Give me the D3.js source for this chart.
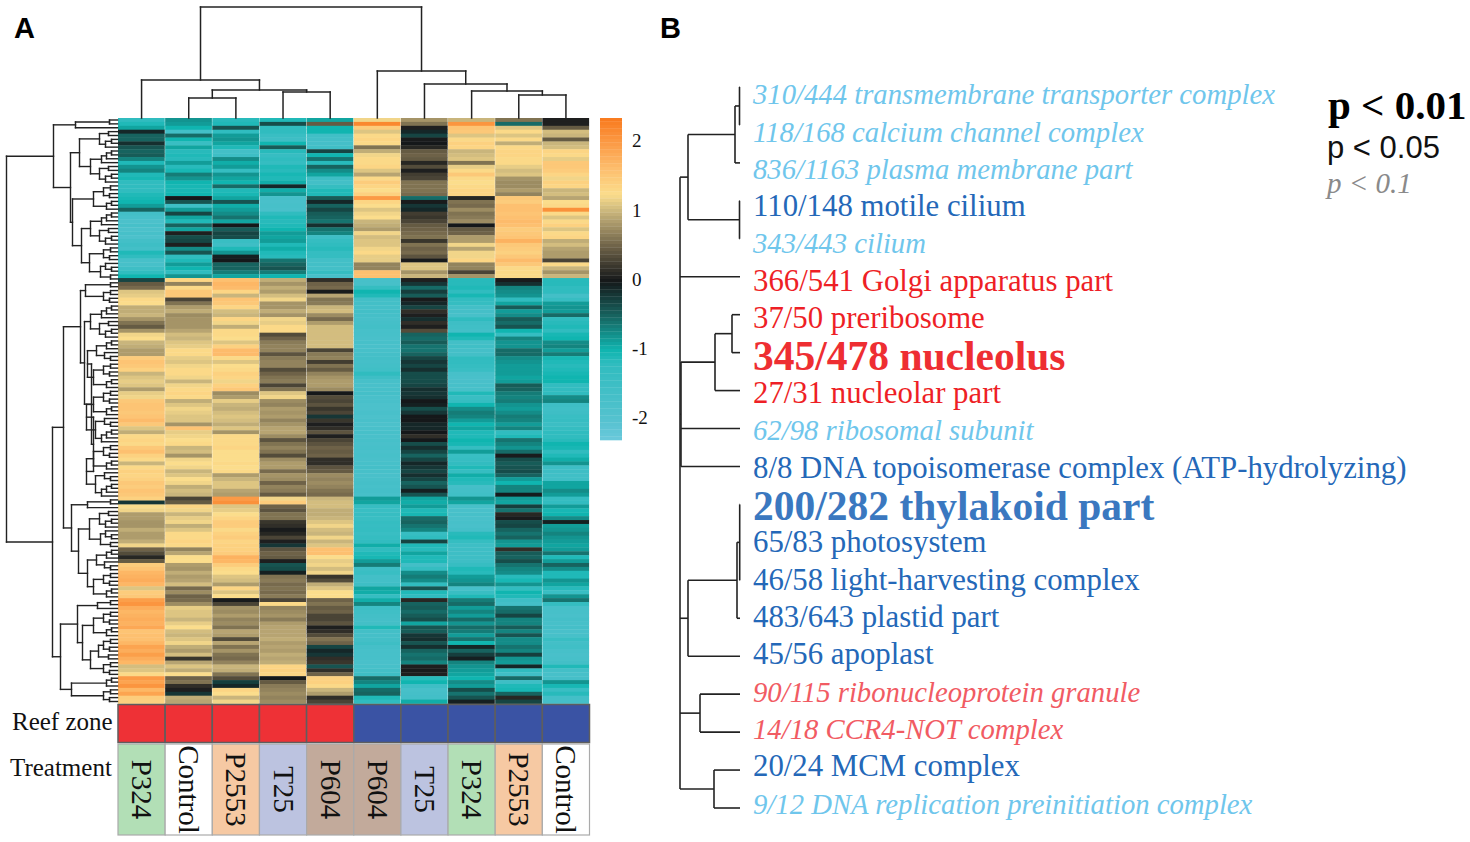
<!DOCTYPE html>
<html><head><meta charset="utf-8">
<script src="https://cdn.jsdelivr.net/npm/d3@7"></script>
<style>html,body{margin:0;padding:0;background:#fff}svg{display:block}text{font-family:"Liberation Serif",serif}</style>
</head><body><svg id="c" width="1470" height="842"></svg>
<script>
// ---- heat map values, one list per sample, top row first ----
const reefP324=[-1.2,-1.1,-0.9,-0.1,-0.5,-0.5,-0.15,-0.4,-0.5,-0.45,
-0.7,-1.1,-0.8,-0.7,-1.1,-1.05,-1.2,-1.2,-1.2,-1.1,
-1.05,-1.0,-0.85,-0.5,-1.6,-1.7,-1.8,-1.7,-1.8,-1.7,
-1.8,-1.6,-1.5,-1.6,-1.1,-1.2,-1.7,-1.7,-1.5,-1.2,
-1.0,-0.3,0.45,0.55,1.1,1.15,1.3,1.25,0.95,0.95,
1.0,0.8,0.6,0.45,0.8,1.2,1.25,1.0,0.95,0.85,
0.85,1.45,1.55,1.5,1.4,1.0,1.1,1.15,1.1,0.85,
1.15,1.2,1.5,1.55,1.55,1.5,1.55,1.65,1.5,1.1,
0.95,1.3,1.35,1.3,1.5,1.6,1.4,1.3,1.0,1.3,
1.4,1.35,1.4,1.5,1.45,1.55,1.5,1.4,-0.2,1.25,
1.2,0.85,0.85,0.8,0.8,0.95,0.85,0.85,0.95,1.2,
0.5,0.35,0.1,0.45,1.45,1.55,1.7,1.75,1.8,1.7,
1.1,1.45,1.5,1.95,2.05,1.8,1.7,1.75,1.8,1.75,
1.85,1.55,1.6,1.6,1.7,1.9,1.8,1.95,1.8,1.7,
1.05,1.1,1.3,2.0,1.9,2.05,1.7,1.9,1.45,1.4];
const reefControl=[-0.8,-0.85,-1.0,-1.6,-0.55,-1.0,-1.4,-0.9,-1.15,-1.1,
-1.15,-0.85,-1.15,-1.05,-0.65,-0.8,-1.0,-1.05,-1.05,-1.0,
0.0,-0.4,-1.5,-0.85,-0.3,-0.9,-1.1,-0.5,-0.9,0.05,
-0.35,-0.3,0.05,-0.75,-0.4,-1.2,-1.1,-0.85,-1.0,-1.2,
-0.8,1.35,0.7,1.3,1.5,1.5,0.3,0.6,0.85,0.95,
0.75,0.8,0.8,0.8,0.9,1.05,1.0,1.1,1.15,1.3,
1.3,1.15,1.1,1.2,1.3,1.3,1.2,1.0,1.2,1.3,
1.35,1.3,0.95,1.1,1.2,1.15,1.1,1.1,0.8,1.55,
1.15,1.2,1.25,1.3,1.0,1.05,0.8,1.2,1.25,1.2,
1.0,1.1,1.25,1.2,0.95,1.05,1.0,0.3,0.45,1.35,
1.2,1.0,1.15,1.2,0.95,1.1,1.3,1.3,1.35,1.3,
0.7,0.9,1.25,1.25,0.85,0.8,0.95,0.85,0.9,1.05,
0.55,0.75,0.5,0.55,0.75,1.15,1.1,1.1,1.0,1.15,
1.25,1.05,1.0,1.1,1.2,0.95,0.85,1.05,0.2,0.9,
1.1,0.95,1.25,0.5,0.6,0.15,0.05,-0.2,0.95,0.9];
const reefP2553=[-1.15,-1.1,-0.4,-1.2,-0.85,-0.8,-0.9,-1.1,-1.6,-1.5,
-0.75,-0.95,-0.85,-1.3,-0.8,-0.9,-1.0,-0.55,-1.1,-1.05,
-0.9,-0.4,-0.95,-0.85,-0.75,-0.6,-0.9,0.0,-0.45,-0.3,
-0.35,-1.4,-1.5,-1.1,-0.8,-0.05,0.0,-0.5,-0.5,-0.65,
-0.9,1.6,1.7,1.65,1.35,1.0,1.55,1.5,1.35,1.05,
1.0,1.35,1.2,0.95,1.3,1.3,1.25,1.1,1.4,1.65,
1.65,1.3,1.1,1.25,1.3,1.4,1.35,1.2,1.4,1.5,
0.75,0.85,1.15,1.0,0.95,1.05,1.1,1.05,0.95,1.1,
0.8,1.3,1.3,1.3,1.35,1.25,1.25,1.25,1.3,1.25,
1.3,0.85,1.0,1.1,1.1,0.9,0.85,2.0,2.1,1.1,
1.15,1.25,1.35,1.45,1.45,1.3,1.4,1.45,1.35,1.4,
1.4,1.45,1.75,1.7,1.45,1.3,1.25,1.1,1.05,0.85,
1.35,1.1,1.25,0.02,0.3,0.8,0.75,0.85,0.7,0.75,
0.6,0.9,0.85,0.35,0.9,0.6,0.8,0.6,0.55,0.7,
1.0,0.95,0.6,0.35,-0.25,-0.1,1.35,1.25,1.0,1.2];
const reefT25=[-1.1,-0.35,-1.2,-1.2,-1.4,-1.5,-1.0,-0.45,-1.15,-1.35,
-1.2,-1.3,-1.1,-1.15,-1.05,-1.1,-0.95,-0.1,-0.95,-0.8,
-1.7,-1.75,-1.7,-1.75,-1.2,-1.1,-1.15,-1.1,-1.0,-0.85,
-0.9,-0.85,-1.1,-0.95,-1.1,-1.15,-0.6,-0.5,-0.4,-0.65,
-1.0,0.95,0.8,0.95,0.85,1.05,1.2,0.8,0.8,0.95,
0.8,1.2,1.15,1.3,1.3,0.35,0.5,0.65,0.7,0.7,
0.4,0.65,0.7,0.7,0.35,0.5,0.6,0.65,0.3,0.6,
1.1,1.2,0.75,0.7,0.85,0.8,0.85,0.7,0.8,0.9,
0.9,0.75,0.4,0.6,0.7,0.6,0.35,0.75,0.85,0.85,
0.55,0.8,0.75,0.5,0.7,0.65,0.45,1.2,1.45,0.5,
0.4,0.6,0.6,0.2,0.15,0.02,0.1,0.3,0.05,-0.2,
0.4,0.5,0.45,0.05,-0.4,-0.35,-0.05,0.6,0.65,0.55,
0.6,0.55,0.65,0.3,1.3,0.7,0.75,0.8,0.65,0.85,
0.9,0.9,0.9,0.95,0.85,0.9,0.85,0.95,0.9,0.95,
1.35,1.4,1.35,0.0,0.45,0.65,0.7,0.75,0.7,0.75];
const reefP604=[-0.9,0.45,-1.0,-1.0,-1.55,-1.6,-1.65,-1.55,-0.3,-1.0,
-0.6,-1.15,-0.5,-0.75,-0.9,-1.5,-1.6,-1.3,-1.1,-1.1,
-0.45,-0.1,-0.5,-0.3,-0.45,-0.5,-0.6,-0.15,-0.6,-0.7,
-1.5,-1.3,-1.2,-1.15,-1.3,-1.3,-1.6,-1.6,-1.6,-1.3,
-1.7,0.15,0.5,0.55,0.02,0.9,0.6,0.65,1.0,1.05,
0.75,0.55,0.85,1.05,1.05,1.05,1.05,1.05,1.05,0.3,
0.65,0.7,0.25,0.6,0.45,0.7,0.8,0.85,0.85,0.75,
0.0,0.35,0.3,0.4,0.2,0.3,-0.2,0.2,0.05,0.15,
0.4,0.05,0.3,0.4,0.5,0.45,0.5,0.15,0.15,0.4,
0.45,0.75,0.7,0.75,0.7,0.6,0.55,1.0,1.05,1.05,
0.95,0.95,1.0,1.1,1.2,1.05,1.0,1.2,1.0,1.1,
1.6,1.6,1.25,1.15,1.2,1.05,1.2,0.2,0.35,0.95,
1.1,1.25,1.25,0.5,0.6,0.45,0.5,0.3,0.3,0.4,
0.05,0.15,0.35,0.6,0.5,-0.3,-0.1,-0.2,0.15,0.2,
-0.4,0.15,0.5,1.4,1.4,1.3,1.0,0.85,0.15,0.3];
const foreP604=[1.2,2.2,1.45,1.1,1.3,1.35,1.3,0.6,0.95,1.2,
1.3,1.3,1.35,1.1,0.9,1.3,1.45,1.35,1.25,1.4,
2.0,1.35,1.25,1.1,1.2,1.25,1.0,0.95,0.85,1.2,
1.05,1.1,1.1,1.2,1.3,1.15,1.15,0.7,0.7,1.6,
1.6,-1.7,-1.7,-1.3,-1.0,-1.1,-1.6,-1.6,-1.65,-1.6,
-1.65,-1.7,-1.65,-1.6,-1.7,-1.7,-1.75,-1.7,-1.75,-1.7,
-1.65,-1.6,-1.65,-1.6,-1.55,-1.2,-1.5,-1.7,-1.75,-1.7,
-1.65,-1.75,-1.75,-1.8,-1.8,-1.75,-1.8,-1.75,-1.8,-1.75,
-1.7,-1.75,-1.7,-1.75,-1.7,-1.75,-1.7,-1.75,-1.7,-1.65,
-1.7,-1.75,-1.7,-1.65,-1.7,-1.65,-1.7,-0.85,-0.9,-1.35,
-1.4,-1.35,-1.4,-1.3,-1.35,-1.3,-1.4,-1.3,-1.25,-0.95,
-1.2,-1.1,-1.05,-0.85,-0.65,-1.5,-1.4,-1.6,-1.6,-1.5,
-0.9,-0.95,-1.3,-0.95,-0.7,-1.5,-1.55,-1.6,-1.65,-1.6,
-1.1,-1.6,-1.65,-1.6,-1.5,-1.65,-1.7,-1.7,-1.7,-1.75,
-1.7,-1.6,-1.5,-0.55,-0.7,-0.9,-0.55,-0.5,-1.1,-1.2];
const foreT25=[0.8,0.6,0.05,-0.1,-0.3,0.02,0.0,0.1,0.45,0.5,
0.45,0.1,0.35,0.05,0.25,0.3,0.6,0.6,0.6,0.55,
-0.55,0.02,-0.2,-0.1,0.25,0.2,0.3,0.45,0.5,0.55,
0.6,0.2,0.6,0.5,0.55,0.4,0.02,1.1,1.1,0.8,
1.0,0.05,-0.2,-0.55,-0.25,-0.45,0.02,-0.1,-0.3,0.15,
0.05,-0.15,0.15,0.05,0.35,-0.5,-0.55,-0.45,-0.6,-0.6,
-0.5,-0.3,-0.2,-0.3,-0.15,-0.35,-0.35,-0.35,-0.3,-0.15,
-0.2,-0.15,0.0,-0.05,-0.35,-0.2,0.0,0.0,-0.1,-0.1,
0.0,0.15,0.0,-0.35,-0.15,-0.3,-0.5,-0.3,-0.1,-0.2,
-0.3,-0.15,-0.3,-0.5,-0.4,-0.05,-0.4,-0.9,-0.95,-0.85,
-1.1,-1.05,-0.55,-0.5,-0.6,-0.7,-1.35,-1.2,-0.3,-1.1,
-1.15,-0.9,-1.1,-1.1,-1.6,-1.3,-0.75,-0.65,-0.75,-1.2,
-0.4,-1.1,-1.2,0.1,-0.5,-0.45,-0.55,-0.45,-0.35,-0.9,
-0.4,-0.45,-0.2,-0.15,-0.4,-0.15,-0.5,-0.6,-0.55,-0.7,
0.05,0.02,0.05,-1.15,-1.0,-1.5,-1.7,-1.65,-1.6,-0.95];
const foreP324=[1.0,2.05,1.55,1.5,1.1,1.3,1.4,1.35,1.0,1.05,
1.1,0.6,1.15,1.3,1.5,1.3,1.25,1.3,1.35,1.35,
0.1,0.6,0.55,0.75,0.6,0.65,0.75,0.0,0.45,0.5,
0.85,0.85,1.2,0.9,1.2,1.2,1.35,0.7,0.7,0.3,
0.8,-1.15,-1.15,-1.1,-1.2,-1.05,-1.25,-1.3,-1.6,-1.65,
-1.7,-1.2,-1.5,-1.55,-1.6,-1.0,-1.1,-1.6,-1.55,-1.65,
-1.6,-1.2,-1.25,-1.3,-1.4,-1.7,-1.75,-1.75,-1.7,-1.7,
-1.1,-1.4,-1.3,-1.0,-0.75,-0.65,-0.7,-0.85,-1.0,-0.9,
-1.1,-1.1,-1.0,-1.05,-1.3,-0.85,-1.4,-1.35,-1.25,-1.1,
-1.3,-0.95,-1.1,-1.15,-1.65,-1.6,-1.55,-0.8,-0.9,-1.7,
-1.75,-1.7,-1.75,-1.7,-1.75,-1.65,-1.15,-1.1,-1.3,-1.5,
-1.5,-1.5,-1.5,-1.5,-1.35,-1.1,-1.15,-0.85,-0.8,-0.7,
-1.7,-1.4,-1.1,-0.65,-0.55,-0.85,-0.7,-0.85,-0.55,-0.8,
-0.55,-0.65,-0.85,-0.6,-1.0,-0.1,-0.5,-0.25,-0.05,-0.7,
-0.8,-0.85,-0.9,-1.0,-0.75,-0.85,-0.35,-0.6,-0.4,-0.05];
const foreP2553=[0.6,-0.55,1.1,1.3,1.1,1.3,0.95,1.3,1.35,1.35,
1.3,1.3,1.15,1.05,1.1,0.8,0.75,0.75,0.85,0.7,
1.5,1.45,1.6,1.6,1.55,1.6,1.65,1.6,1.45,1.5,
1.55,1.75,1.5,1.45,1.4,1.5,1.65,1.5,1.3,1.3,
1.3,0.02,-0.15,-0.7,-0.75,-0.8,-1.2,-0.9,-0.45,-0.85,
-0.75,-0.45,-0.55,-0.4,-1.0,-1.3,-0.7,-0.8,-0.8,-0.55,
-0.55,-0.75,-0.8,-0.85,-0.85,-0.85,-0.9,-0.85,-0.45,-0.5,
-0.65,-0.7,-0.65,-0.8,-0.85,-0.75,-0.65,-0.7,-0.85,-0.7,
-1.2,-1.1,-0.6,-0.7,-0.8,-0.55,0.02,-0.35,-0.45,-0.4,
-0.35,-0.5,-0.85,-1.0,-0.7,-0.7,-0.02,-0.85,-0.9,-0.25,
-0.6,0.1,0.02,-0.35,-0.3,-0.5,-0.6,-0.5,-0.8,-0.85,
0.15,-0.45,-0.5,-0.35,-0.6,-0.7,-0.75,-1.15,-1.05,-0.8,
-1.25,-1.0,-1.1,-1.5,-1.6,-0.6,-0.55,-0.3,-0.7,-0.7,
-0.45,-0.7,-0.4,-0.75,-0.75,-0.6,-0.7,-0.25,-0.8,-0.85,
-0.1,-1.2,-1.55,-0.55,-1.5,-1.1,-1.05,-0.5,0.1,-0.3];
const foreControl=[0.05,0.05,0.45,1.05,1.0,0.45,1.0,1.05,1.35,1.3,
1.15,1.5,1.5,1.45,1.35,1.2,1.4,1.35,1.0,1.05,
0.9,1.25,1.3,2.1,1.3,1.1,1.3,1.4,1.1,1.3,
1.35,0.95,1.05,0.9,0.85,0.85,0.3,1.3,1.0,0.8,
1.0,-1.15,-1.15,-1.2,-1.2,-1.6,-1.35,-0.85,-0.8,-0.85,
-0.55,-1.2,-1.15,-1.1,-1.2,-1.05,-1.0,-0.75,-0.7,-0.85,
-0.65,-1.05,-1.1,-1.15,-1.1,-1.05,-1.0,-1.0,-1.25,-1.25,
-1.2,-0.75,-0.7,-1.5,-1.55,-1.5,-1.4,-1.35,-1.45,-1.3,
-1.2,-1.2,-1.15,-1.0,-1.05,-1.2,-1.1,-0.95,-0.8,-1.5,
-1.5,-1.55,-1.55,-0.9,-0.9,-0.75,-0.85,-1.3,-1.25,-0.85,
-1.05,-1.0,-0.75,-0.05,-0.85,-0.8,-0.7,-0.8,-0.85,-0.9,
-0.85,-0.6,-1.1,-0.85,-0.5,-0.75,-1.1,-1.1,-0.8,-0.9,
-1.15,-1.4,-0.8,-0.6,-1.3,-1.7,-1.7,-1.75,-1.65,-1.7,
-1.65,-1.75,-1.7,-1.4,-1.6,-1.55,-1.7,-1.75,-1.7,-1.6,
-1.1,-1.6,-1.7,-1.65,-0.8,-1.05,-1.4,-1.15,-1.6,-1.65];

const treatments=["P324","Control","P2553","T25","P604","P604","T25","P324","P2553","Control"];
const reefZones=["Reef","Reef","Reef","Reef","Reef","Fore","Fore","Fore","Fore","Fore"];
const scaleStops=[-2.33,-2,-1.2,-1,-0.5,0,0.5,1,1.25,1.6,2,2.33];
const scaleColors=["#6cc9dd","#55c2cf","#30bcbf","#10b5b0","#17635f","#15181a","#6e6248","#c9b57c","#fbdd8c","#fdc070","#fb9a45","#f97c20"];
const scaleTicks=[2,1,0,-1,-2];
const treatmentColors={P324:"#b2dfb6",Control:"#ffffff",P2553:"#f6c9a3",T25:"#bcc3e0",P604:"#c2aa9b"};
const zoneColors={Reef:"#ee3136",Fore:"#3a53a4"};

// dendrogram of samples: [merge height, child, child]; 0 = a leaf
const sampleTree=[111,[38,0,[28,[20,0,0],[26,0,0]]],[47,0,[34,0,[27,0,[23,0,0]]]]];

// dendrogram of rows, assembled from small clusters
const n2=[7,0,0],n2b=[9,0,0],n3=[11,[6,0,0],0],n3b=[13,0,[7,0,0]];
const n4=[14,[7,0,0],[8,0,0]],n4b=[16,[11,[6,0,0],0],0];
const n5=[18,n2b,[12,[6,0,0],0]],n5b=[17,[12,0,[6,0,0]],n2];
const n6=[21,n3,n3b],n6b=[19,n4,n2b];
const n7=[24,n4,n3],n7b=[22,n3b,n4b];
const n8=[25,n4,n4b],n9=[27,n4b,n5],n10=[28,n5,n5b],n10b=[27,n6b,n4];
const n13=[30,n6,n7],n14=[31,n7,n7b];
const rowTree=[111,
 [64,[42,[8,0,0],0],
  [47,[38,n5,n9],[45,n7,[36,n9,[28,n4,n5b]]]]],
 [65,
  [54,
   [37,[32,n2,n4],[33,n9,[26,n13,[24,n14,n14]]]],
   [46,[30,n2,0],[39,n10,n13]]],
  [57,[40,[20,n2,0],[35,n7,n10b]],[46,n3,n4]]]];

// labels of panel B, top to bottom
const goLabels=["310/444 transmembrane transporter complex","118/168 calcium channel complex","836/1163 plasma membrane part","110/148 motile cilium","343/443 cilium","366/541 Golgi apparatus part","37/50 preribosome","345/478 nucleolus","27/31 nucleolar part","62/98 ribosomal subunit","8/8 DNA topoisomerase complex (ATP-hydrolyzing)","200/282 thylakoid part","65/83 photosystem","46/58 light-harvesting complex","483/643 plastid part","45/56 apoplast","90/115 ribonucleoprotein granule","14/18 CCR4-NOT complex","20/24 MCM complex","9/12 DNA replication preinitiation complex"];
const goDirection=["down","down","down","down","down","up","up","up","up","down","down","down","down","down","down","down","up","up","down","down"];
const goLevel=[3,3,3,2,3,2,2,1,2,3,2,1,2,2,2,2,3,3,2,3];
const goLabelY=[95,133,170,207,244,282,319,357,394,431,469,507,543,581,618,655,693,730,767,805];
// tree of panel B: [height, children...]
const goTree=[60,
 [52,[5,[0.5,0,0],0],[0.5,0,0]],
 0,
 [59,[25,[8,0,0],0],0,0],
 [52,[3,[0.3,0,0,0],0],0],
 [40,0,0],
 [26,0,0]];

// ---- drawing ----
const svg=d3.select("#c");
const columns=[reefP324,reefControl,reefP2553,reefT25,reefP604,foreP604,foreT25,foreP324,foreP2553,foreControl];
const nRows=reefP324.length;
const color=d3.scaleLinear().domain(scaleStops).range(scaleColors).clamp(true);
const x=d3.scaleBand().domain(d3.range(columns.length)).range([118,589.5]);
const y=d3.scaleBand().domain(d3.range(nRows)).range([118,703.5]);
const heat=svg.append("g");
columns.forEach((col,i)=>{
  heat.selectAll(null).data(col).join("rect")
   .attr("x",x(i)).attr("width",x.bandwidth()-0.4)
   .attr("y",(d,r)=>y(r)).attr("height",y.bandwidth()+0.4)
   .attr("fill",d=>color(d));
});

// generic dendrogram: walk nested arrays, put leaves at pos(i), heights through hScale
function layout(node,counter,pos){
  if(!Array.isArray(node)){const p=pos(counter.n++);return {p,h:0,kids:[]};}
  const kids=node.slice(1).map(k=>layout(k,counter,pos));
  return {p:(kids[0].p+kids[kids.length-1].p)/2,h:node[0],kids};
}
function segs(n,out){n.kids.forEach(k=>{out.push([n.h,k.p,k.h,k.p]);segs(k,out);});
  if(n.kids.length)out.push([n.h,n.kids[0].p,n.h,n.kids[n.kids.length-1].p]);return out;}
function countLeaves(n){return Array.isArray(n)?d3.sum(n.slice(1),countLeaves):1;}

// sample dendrogram
const hTop=d3.scaleLinear().domain([0,111]).range([118,7]);
const topLayout=layout(sampleTree,{n:0},i=>x(i)+x.bandwidth()/2);
svg.append("g").selectAll("line").data(segs(topLayout,[])).join("line")
 .attr("x1",d=>d[1]).attr("x2",d=>d[3]).attr("y1",d=>hTop(d[0])).attr("y2",d=>hTop(d[2]))
 .attr("stroke","#222").attr("stroke-width",1.5).attr("stroke-linecap","square");

// row dendrogram
const hLeft=d3.scaleLinear().domain([0,111]).range([117.5,6.5]);
const nLeaves=countLeaves(rowTree);
const leafY=d3.scaleLinear().domain([0,nLeaves-1]).range([120,701.5]);
const leftLayout=layout(rowTree,{n:0},i=>leafY(i));
svg.append("g").selectAll("line").data(segs(leftLayout,[])).join("line")
 .attr("y1",d=>d[1]).attr("y2",d=>d[3]).attr("x1",d=>hLeft(d[0])).attr("x2",d=>hLeft(d[2]))
 .attr("stroke","#222").attr("stroke-width",1.4).attr("stroke-linecap","square");

// annotation strips
const bandW=x.bandwidth();
svg.append("g").selectAll("rect").data(reefZones).join("rect")
 .attr("x",(d,i)=>x(i)).attr("y",704.5).attr("width",bandW).attr("height",38)
 .attr("fill",d=>zoneColors[d]).attr("stroke","#5e5e5e").attr("stroke-width",1.5);
svg.append("g").selectAll("rect").data(treatments).join("rect")
 .attr("x",(d,i)=>x(i)).attr("y",744).attr("width",bandW).attr("height",91)
 .attr("fill",d=>treatmentColors[d]).attr("stroke","#aaa").attr("stroke-width",1.2);
svg.append("g").selectAll("text").data(treatments).join("text")
 .attr("transform",(d,i)=>`translate(${x(i)+bandW/2-9.5},789.5) rotate(90)`)
 .attr("text-anchor","middle").attr("font-size",29).attr("fill","#111").text(d=>d);
svg.append("text").attr("x",12).attr("y",730).attr("font-size",25).attr("fill","#111").text("Reef zone");
svg.append("text").attr("x",10).attr("y",776).attr("font-size",25).attr("fill","#111").text("Treatment");

// colour bar
const barY=d3.scaleLinear().domain([2.33,-2.32]).range([118,440]);
const barVals=d3.range(0,92).map(i=>barY.invert(118+i*3.5));
svg.append("g").selectAll("rect").data(barVals).join("rect")
 .attr("x",600).attr("width",22).attr("y",d=>barY(d)).attr("height",3.8).attr("fill",d=>color(d));
const barAxis=svg.append("g").attr("transform","translate(622,0)")
 .call(d3.axisRight(barY).tickValues(scaleTicks).tickSize(0).tickPadding(10).tickFormat(String));
barAxis.select(".domain").remove();
barAxis.selectAll("text").attr("font-size",19).attr("fill","#111").style("font-family","'Liberation Serif',serif");

// panel letters
svg.selectAll(null).data([["A",14],["B",660]]).join("text")
 .attr("x",d=>d[1]).attr("y",38).text(d=>d[0]).attr("font-size",29).attr("font-weight",700)
 .style("font-family","'Liberation Sans',sans-serif").attr("fill","#000");

// panel B tree
const hGo=d3.scaleLinear().domain([0,60]).range([740,680]);
const goLeafY=d3.scaleLinear().domain([0,goLabels.length-1]).range([87,808]);
const goLayout=layout(goTree,{n:0},i=>goLeafY(i));
svg.append("g").selectAll("line").data(segs(goLayout,[])).join("line")
 .attr("y1",d=>d[1]).attr("y2",d=>d[3]).attr("x1",d=>hGo(d[0])).attr("x2",d=>hGo(d[2]))
 .attr("stroke","#222").attr("stroke-width",1.6).attr("stroke-linecap","butt");

// panel B labels
const fillFor=(dir,lvl)=>{
  if(dir==="up") return lvl===3?"#f15b63":(lvl===1?"#ee2e32":"#ee1f26");
  return lvl===3?"#6fc6ec":(lvl===1?"#3a78c0":"#2468b8");
};
const goSize={1:41.5,2:30.8,3:28.7};
svg.append("g").selectAll("text").data(goLabels).join("text")
 .attr("x",753).attr("y",(d,i)=>goLabelY[i]+(goLevel[i]===1?13:9))
 .attr("font-size",(d,i)=>goSize[goLevel[i]])
 .attr("font-weight",(d,i)=>goLevel[i]===1?700:400)
 .attr("font-style",(d,i)=>goLevel[i]===3?"italic":"normal")
 .attr("fill",(d,i)=>fillFor(goDirection[i],goLevel[i])).text(d=>d);

// significance key
svg.append("text").attr("x",1328).attr("y",119).attr("font-size",41).attr("font-weight",700).attr("fill","#000").text("p < 0.01");
svg.append("text").attr("x",1327).attr("y",158).attr("font-size",31).attr("fill","#111").style("font-family","'Liberation Sans',sans-serif").text("p < 0.05");
svg.append("text").attr("x",1327).attr("y",193).attr("font-size",29).attr("font-style","italic").attr("fill","#8a8a8a").text("p < 0.1");
</script></body></html>
